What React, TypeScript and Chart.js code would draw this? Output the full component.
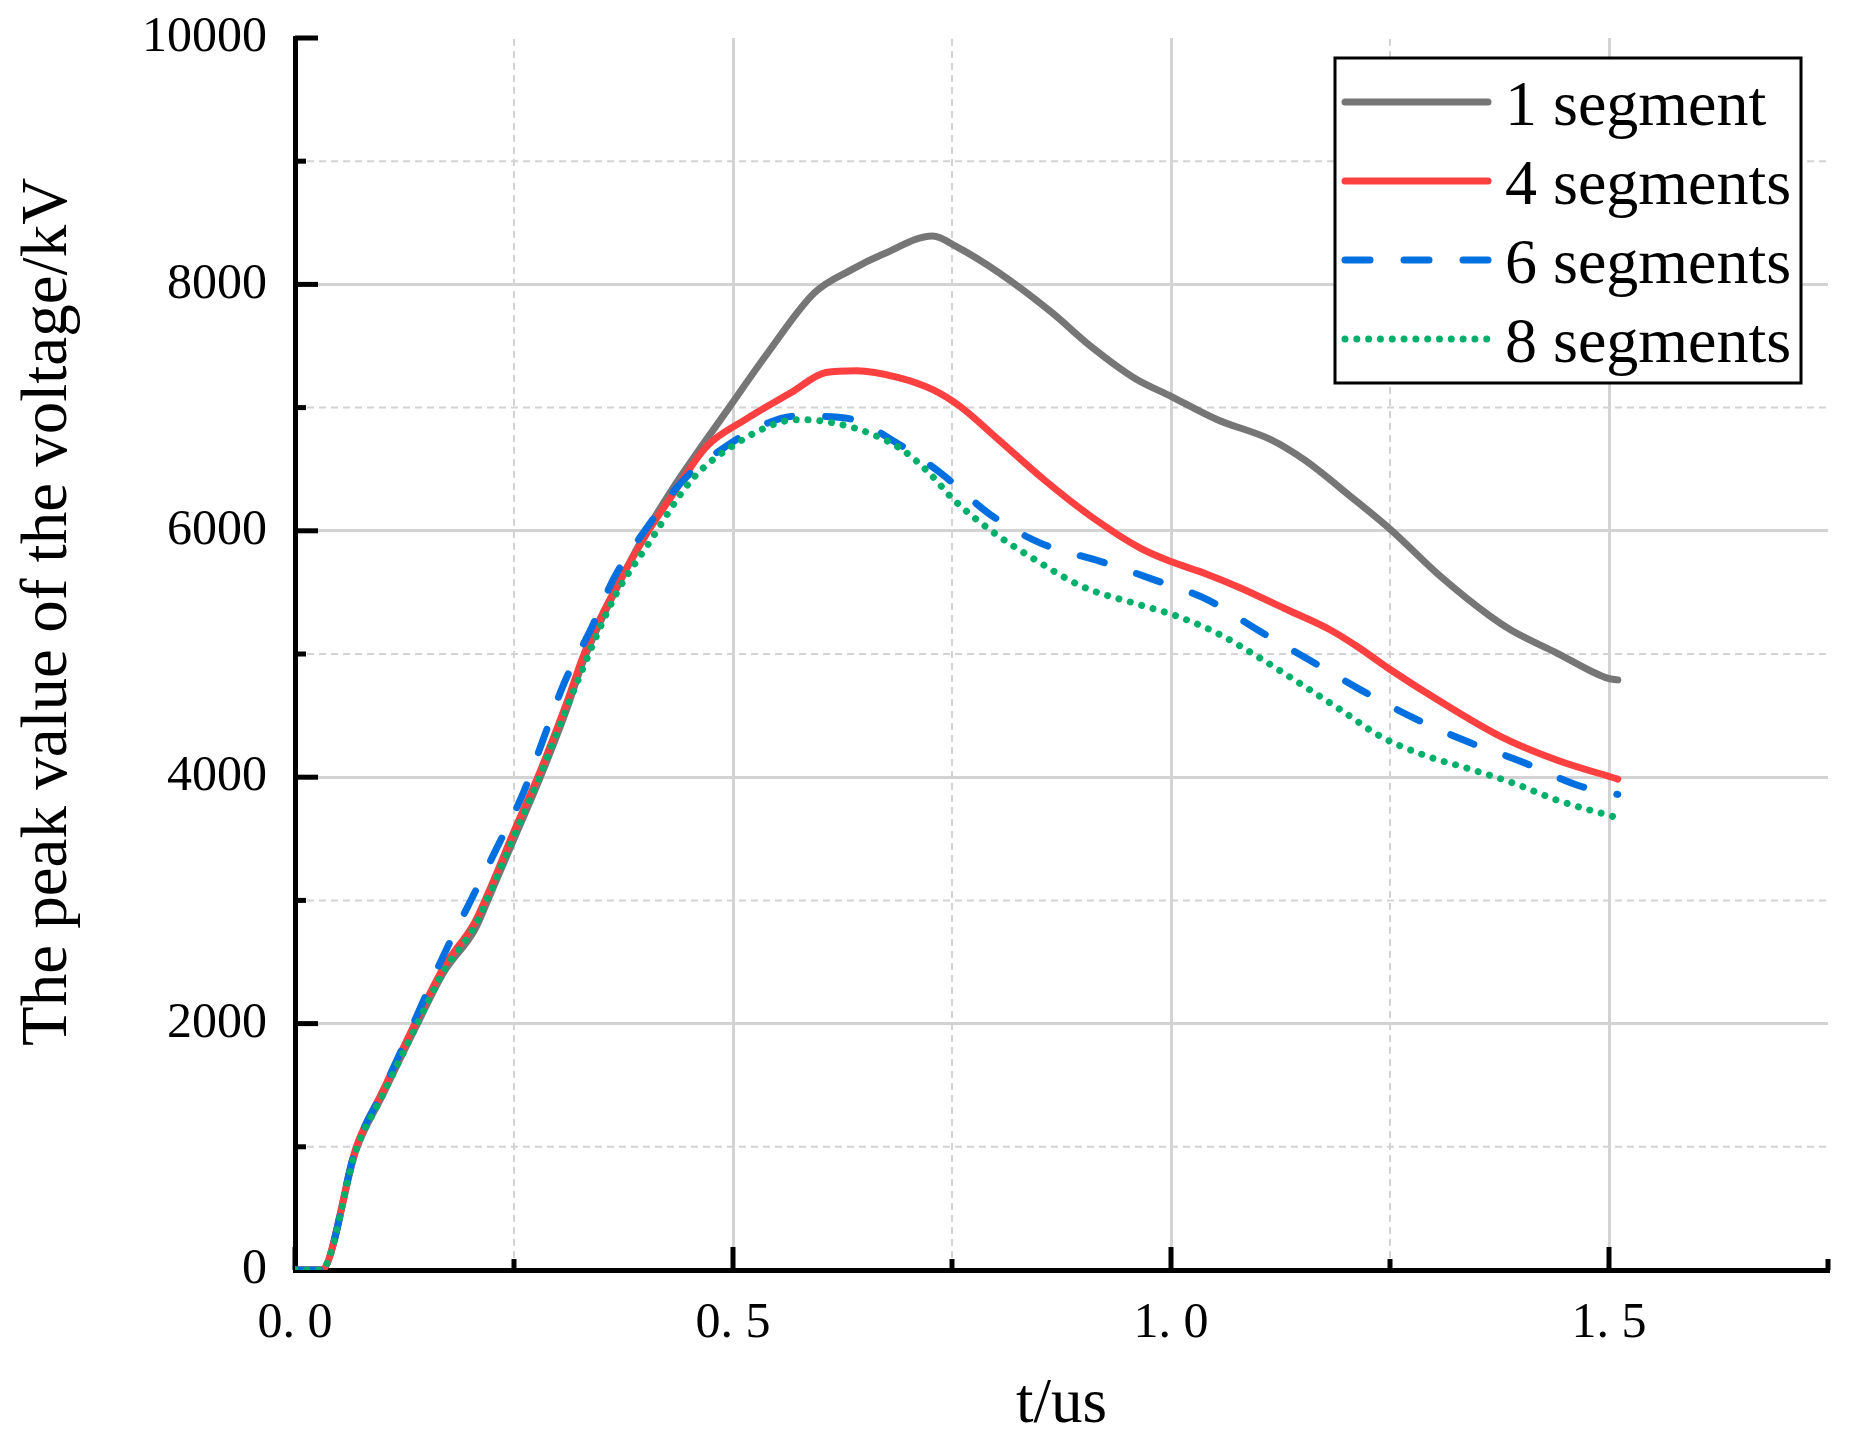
import React, { useEffect, useRef } from 'react';
import { Chart, registerables } from 'chart.js';

Chart.register(...registerables);

// page / plot geometry (px)
const W = 1853;
const H = 1447;
const PLOT = { left: 295, top: 38, right: 1828, bottom: 1270 };

const FONT = "'Liberation Serif', 'Times New Roman', Times, serif";
const GRID_COLOR = '#d3d3d3';

const SERIES_NAMES = ['1 segment', '4 segments', '6 segments', '8 segments'];
const SERIES_COLORS = ['#767676', '#ff4040', '#0070e0', '#00b06a'];

const X_TITLE = 't/us';
const Y_TITLE = 'The peak value of the voltage/kV';

const X_TICKS = [0, 0.5, 1.0, 1.5];
const X_TICK_LABELS = ['0. 0', '0. 5', '1. 0', '1. 5'];
const X_MINOR = [0.25, 0.75, 1.25, 1.75];
const Y_TICKS = [0, 2000, 4000, 6000, 8000, 10000];
const Y_TICK_LABELS = ['0', '2000', '4000', '6000', '8000', '10000'];
const Y_MINOR = [1000, 3000, 5000, 7000, 9000];

// 1 segment
const T_1SEG = [0, 0.03, 0.07, 0.1, 0.137, 0.17, 0.205, 0.22, 0.25, 0.28, 0.31, 0.33, 0.36, 0.4, 0.43, 0.4965, 0.54, 0.593, 0.636, 0.671, 0.728, 0.754, 0.803, 0.864, 0.908, 0.958, 1.0, 1.053, 1.114, 1.152, 1.205, 1.251, 1.308, 1.365, 1.388, 1.441, 1.499, 1.51];
const V_1SEG = [0, 0, 980, 1420, 1960, 2420, 2760, 3000, 3500, 4000, 4550, 4960, 5430, 5980, 6330, 7010, 7447, 7932, 8122, 8244, 8393, 8311, 8098, 7772, 7500, 7241, 7092, 6902, 6740, 6577, 6279, 6008, 5628, 5303, 5195, 5006, 4802, 4790];

// 4 segments
const T_4SEG = [0, 0.03, 0.07, 0.1, 0.137, 0.17, 0.205, 0.22, 0.25, 0.28, 0.31, 0.33, 0.36, 0.4, 0.427, 0.47, 0.514, 0.5665, 0.606, 0.641, 0.689, 0.728, 0.759, 0.803, 0.855, 0.908, 0.965, 1.0, 1.038, 1.08, 1.129, 1.182, 1.213, 1.251, 1.308, 1.377, 1.441, 1.51];
const V_4SEG = [0, 0, 1000, 1450, 2000, 2460, 2820, 3050, 3560, 4050, 4600, 5000, 5450, 5960, 6250, 6685, 6902, 7122, 7285, 7300, 7244, 7146, 7011, 6740, 6415, 6120, 5859, 5750, 5656, 5534, 5371, 5195, 5059, 4870, 4612, 4328, 4138, 3985];

// 6 segments
const T_6SEG = [0, 0.03, 0.07, 0.1, 0.137, 0.17, 0.2, 0.23, 0.261, 0.284, 0.307, 0.339, 0.365, 0.4, 0.444, 0.492, 0.54, 0.571, 0.628, 0.687, 0.737, 0.794, 0.851, 0.92, 0.981, 1.042, 1.099, 1.158, 1.217, 1.278, 1.339, 1.401, 1.464, 1.51];
const V_6SEG = [0, 0, 1000, 1450, 2030, 2560, 2990, 3420, 3880, 4320, 4760, 5220, 5628, 6008, 6415, 6685, 6876, 6930, 6916, 6713, 6469, 6130, 5900, 5750, 5602, 5439, 5195, 4951, 4707, 4477, 4287, 4124, 3935, 3860];

// 8 segments
const T_8SEG = [0, 0.03, 0.07, 0.1, 0.137, 0.17, 0.205, 0.22, 0.25, 0.28, 0.317, 0.365, 0.404, 0.453, 0.505, 0.558, 0.58, 0.619, 0.658, 0.693, 0.724, 0.752, 0.796, 0.842, 0.899, 0.965, 1.003, 1.053, 1.099, 1.144, 1.194, 1.24, 1.289, 1.339, 1.392, 1.441, 1.51];
const V_8SEG = [0, 0, 980, 1420, 1960, 2430, 2790, 3020, 3520, 4020, 4683, 5466, 5900, 6415, 6713, 6889, 6902, 6870, 6786, 6659, 6469, 6252, 5994, 5778, 5547, 5398, 5317, 5168, 4978, 4775, 4545, 4328, 4179, 4071, 3949, 3813, 3670];

const SERIES_T = [T_1SEG, T_4SEG, T_6SEG, T_8SEG];
const SERIES_V = [V_1SEG, V_4SEG, V_6SEG, V_8SEG];
const SERIES_DASH: number[][] = [[], [], [25, 34], [0.01, 11.8]];

const LINE_W = 7;

function line(ctx: CanvasRenderingContext2D, x1: number, y1: number, x2: number, y2: number) {
  ctx.beginPath();
  ctx.moveTo(x1, y1);
  ctx.lineTo(x2, y2);
  ctx.stroke();
}

const decorPlugin = {
  id: 'decor',
  beforeDatasetsDraw(chart: any) {
    const { ctx, chartArea: a, scales } = chart;
    const x = scales.x;
    const y = scales.y;
    ctx.save();
    // dashed minor grid
    ctx.strokeStyle = GRID_COLOR;
    ctx.lineWidth = 2;
    ctx.setLineDash([7, 5]);
    X_MINOR.forEach(v => {
      if (v >= x.max) return;
      const px = x.getPixelForValue(v);
      line(ctx, px, a.bottom, px, a.top);
    });
    Y_MINOR.forEach(v => {
      const py = y.getPixelForValue(v);
      line(ctx, a.left, py, a.right, py);
    });
    ctx.setLineDash([]);
    // inward ticks
    ctx.strokeStyle = '#000';
    ctx.lineWidth = 5;
    X_TICKS.forEach(v => {
      const px = x.getPixelForValue(v);
      line(ctx, px, a.bottom, px, a.bottom - 23);
    });
    X_MINOR.forEach(v => {
      const px = x.getPixelForValue(v);
      line(ctx, px, a.bottom, px, a.bottom - 11);
    });
    Y_TICKS.forEach(v => {
      const py = y.getPixelForValue(v);
      line(ctx, a.left, py, a.left + 23, py);
    });
    Y_MINOR.forEach(v => {
      const py = y.getPixelForValue(v);
      line(ctx, a.left, py, a.left + 11, py);
    });
    ctx.restore();
  },
  afterDraw(chart: any) {
    const { ctx, chartArea: a } = chart;
    ctx.save();
    // y title
    ctx.fillStyle = '#000';
    ctx.font = `65px ${FONT}`;
    ctx.textAlign = 'center';
    ctx.textBaseline = 'alphabetic';
    ctx.translate(66, (a.top + a.bottom) / 2 - 42);
    ctx.rotate(-Math.PI / 2);
    ctx.fillText(Y_TITLE, 0, 0);
    ctx.restore();

    // legend
    ctx.save();
    const bx = a.right - 493;
    const by = a.top + 20;
    const bw = 466;
    const bh = 325;
    ctx.fillStyle = '#fff';
    ctx.fillRect(bx, by, bw, bh);
    ctx.strokeStyle = '#000';
    ctx.lineWidth = 3;
    ctx.strokeRect(bx, by, bw, bh);
    ctx.font = `64px ${FONT}`;
    ctx.textAlign = 'left';
    ctx.textBaseline = 'alphabetic';
    SERIES_NAMES.forEach((name, i) => {
      const ry = by + 44 + i * 79;
      ctx.strokeStyle = SERIES_COLORS[i];
      ctx.lineWidth = LINE_W;
      ctx.lineCap = 'round';
      ctx.setLineDash(SERIES_DASH[i]);
      line(ctx, bx + 10, ry, bx + 153, ry);
      ctx.setLineDash([]);
      ctx.fillStyle = '#000';
      ctx.fillText(name, bx + 170, ry + 23);
    });
    ctx.restore();
  },
};

export default function App() {
  const canvasRef = useRef<HTMLCanvasElement>(null);

  useEffect(() => {
    document.body.style.margin = '0';
    const canvas = canvasRef.current;
    if (!canvas) return;

    Chart.defaults.font.family = FONT;
    Chart.defaults.color = '#000';

    const datasets = SERIES_NAMES.map((name, i) => ({
      label: name,
      data: SERIES_T[i].map((t, j) => ({ x: t, y: SERIES_V[i][j] })),
      borderColor: SERIES_COLORS[i],
      backgroundColor: SERIES_COLORS[i],
      borderWidth: LINE_W,
      borderDash: SERIES_DASH[i],
      borderCapStyle: 'round' as const,
      borderJoinStyle: 'round' as const,
      pointRadius: 0,
      cubicInterpolationMode: 'monotone' as const,
      fill: false,
      order: SERIES_NAMES.length - i,
    }));

    const chart = new Chart(canvas, {
      type: 'line',
      data: { datasets },
      plugins: [decorPlugin],
      options: {
        animation: false,
        responsive: false,
        devicePixelRatio: 1,
        layout: { padding: { left: 0, top: PLOT.top, right: W - PLOT.right, bottom: 0 } },
        plugins: { legend: { display: false }, tooltip: { enabled: false } },
        scales: {
          x: {
            type: 'linear',
            min: 0,
            max: 1.75,
            afterBuildTicks: (s: any) => { s.ticks = X_TICKS.map(value => ({ value })); },
            afterFit: (s: any) => {
              s.height = H - PLOT.bottom;
              s.paddingLeft = 0;
              s.paddingRight = 0;
            },
            ticks: {
              callback: (_v: any, i: number) => X_TICK_LABELS[i],
              font: { size: 50 },
              color: '#000',
              padding: 24,
              maxRotation: 0,
              autoSkip: false,
            },
            grid: {
              color: (c: any) => (c.tick && c.tick.value === 0 ? 'rgba(0,0,0,0)' : GRID_COLOR),
              lineWidth: 3,
              drawTicks: false,
            },
            border: { color: '#000', width: 5 },
            title: { display: true, text: X_TITLE, font: { size: 63 }, color: '#000', padding: { top: 0, bottom: 4 } },
          },
          y: {
            type: 'linear',
            min: 0,
            max: 10000,
            afterBuildTicks: (s: any) => { s.ticks = Y_TICKS.map(value => ({ value })); },
            afterFit: (s: any) => {
              s.width = PLOT.left;
              s.paddingTop = 0;
              s.paddingBottom = 0;
            },
            ticks: {
              callback: (_v: any, i: number) => Y_TICK_LABELS[i],
              font: { size: 50 },
              color: '#000',
              padding: 28,
              autoSkip: false,
            },
            grid: {
              color: (c: any) =>
                c.tick && (c.tick.value === 0 || c.tick.value === 10000) ? 'rgba(0,0,0,0)' : GRID_COLOR,
              lineWidth: 3,
              drawTicks: false,
            },
            border: { color: '#000', width: 5 },
          },
        },
      },
    });

    return () => {
      chart.destroy();
    };
  }, []);

  return (
    <div style={{ width: W, height: H, background: '#fff' }}>
      <canvas ref={canvasRef} width={W} height={H} style={{ display: 'block' }} />
    </div>
  );
}
